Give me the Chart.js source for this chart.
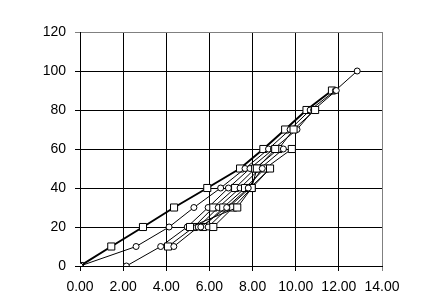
<!DOCTYPE html>
<html>
<head>
<meta charset="utf-8">
<script src="https://cdn.jsdelivr.net/npm/chart.js@4"></script>
<style>
  body { margin: 0; background: #fff; }
  #wrap { width: 426px; height: 304px; }
</style>
</head>
<body>
<div id="wrap"><canvas id="myChart" width="426" height="304"></canvas></div>
<script>
// x values of each series, y values of each series
var s1x = [0, 1.45, 2.92, 4.36, 5.9, 7.42, 8.5, 9.51, 10.5, 11.68];
var s1y = [0, 10, 20, 30, 40, 50, 60, 70, 80, 90];
var s2x = [0, 2.6, 4.13, 5.28, 6.52, 7.65, 8.74, 9.74, 10.67, 11.84, 12.85];
var s2y = [0, 10, 20, 30, 40, 50, 60, 70, 80, 90, 100];
var s3x = [2.15, 3.74, 4.97, 5.94, 6.88, 7.88, 8.97, 10.06, 10.83, 11.88];
var s3y = [0, 10, 20, 30, 40, 50, 60, 70, 80, 90];
var s4x = [4.08, 5.28, 6.18, 7.19, 8.12, 9.2, 9.9, 10.9];
var s4y = [10, 20, 30, 40, 50, 60, 70, 80];
var s5x = [4.35, 5.48, 6.41, 7.42, 8.35, 9.43];
var s5y = [10, 20, 30, 40, 50, 60];
var s6x = [5.71, 6.64, 7.65, 8.58, 9.82];
var s6y = [20, 30, 40, 50, 60];
var s7x = [5.94, 6.88, 7.88, 8.81];
var s7y = [20, 30, 40, 50];
var s8x = [6.18, 7.1, 7.96, 8.81];
var s8y = [20, 30, 40, 50];
var s9x = [5.1, 7.29, 7.96, 8.2, 9.05];
var s9y = [20, 30, 40, 50, 60];
var s10x = [5.6, 6.8, 7.8, 8.45];
var s10y = [20, 30, 40, 50];

var xTicks = [0, 2, 4, 6, 8, 10, 12, 14];
var yTicks = [0, 20, 40, 60, 80, 100, 120];

function pts(xs, ys) {
  var out = [];
  for (var i = 0; i < xs.length; i++) out.push({x: xs[i], y: ys[i]});
  return out;
}

function series(xs, ys, marker, thick) {
  var sq = marker === 'rect';
  return {
    data: pts(xs, ys),
    showLine: true,
    borderColor: '#000',
    borderWidth: thick ? 2 : 1,
    pointStyle: marker,
    pointRadius: sq ? 5 : 3,
    pointBackgroundColor: '#fff',
    pointBorderColor: '#000',
    pointBorderWidth: 1
  };
}

var font = {family: 'Liberation Sans, Arial, sans-serif', size: 14};
var edge = function (last) {
  return function (c) { return c.tick && c.tick.value === last ? '#808080' : '#000'; };
};

new Chart(document.getElementById('myChart'), {
  type: 'scatter',
  data: {
    datasets: [
      series(s10x, s10y, 'circle'),
      series(s9x, s9y, 'rect'),
      series(s8x, s8y, 'rect'),
      series(s7x, s7y, 'circle'),
      series(s6x, s6y, 'rect'),
      series(s5x, s5y, 'circle'),
      series(s4x, s4y, 'rect'),
      series(s3x, s3y, 'circle'),
      series(s2x, s2y, 'circle'),
      series(s1x, s1y, 'rect', true)
    ]
  },
  options: {
    responsive: false,
    animation: false,
    layout: {padding: {top: 32, right: 44, left: 0, bottom: 0}},
    plugins: {legend: {display: false}, tooltip: {enabled: false}},
    scales: {
      x: {
        type: 'linear', min: 0, max: 14,
        afterBuildTicks: function (s) { s.ticks = xTicks.map(function (v) { return {value: v}; }); },
        afterFit: function (s) { s.height = 38; },
        grid: {color: edge(14), lineWidth: 1, tickLength: 5},
        border: {color: '#000', width: 1},
        ticks: {color: '#000', font: font, padding: 8, maxRotation: 0,
                callback: function (v) { return v.toFixed(2); }}
      },
      y: {
        type: 'linear', min: 0, max: 120,
        afterBuildTicks: function (s) { s.ticks = yTicks.map(function (v) { return {value: v}; }); },
        afterFit: function (s) { s.width = 80; },
        grid: {color: edge(120), lineWidth: 1, tickLength: 5},
        border: {color: '#000', width: 1},
        ticks: {color: '#000', font: font, padding: 9}
      }
    }
  }
});
</script>
</body>
</html>
